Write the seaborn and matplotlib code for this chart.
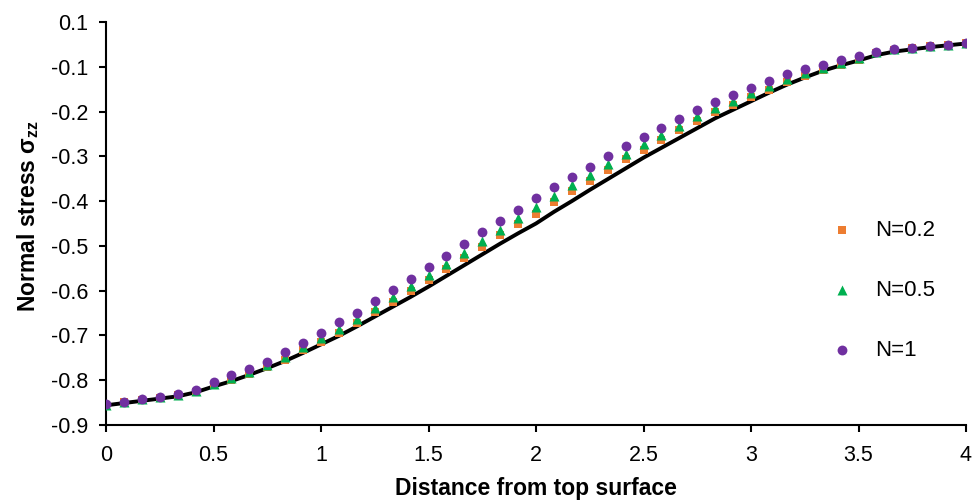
import numpy as np
import pandas as pd
import matplotlib
matplotlib.use("Agg")
import matplotlib.pyplot as plt
import seaborn as sns

# Distance from the top surface (49 evenly spaced stations, 0 to 4)
distance = np.linspace(0.0, 4.0, 49)

# Reference solution (solid black curve)
stress_ref = [
    -0.856, -0.851, -0.846, -0.841, -0.836, -0.827, -0.814, -0.802, -0.788, -0.773,
    -0.757, -0.739, -0.720, -0.701, -0.680, -0.658, -0.636, -0.614, -0.591, -0.567,
    -0.543, -0.519, -0.495, -0.472, -0.450, -0.424, -0.400, -0.375, -0.351, -0.327,
    -0.303, -0.281, -0.259, -0.237, -0.215, -0.196, -0.177, -0.158, -0.140, -0.124,
    -0.109, -0.097, -0.086, -0.074, -0.066, -0.061, -0.056, -0.052, -0.048,
]

# N = 0.2
stress_n02 = [
    -0.855, -0.849, -0.844, -0.839, -0.834, -0.826, -0.810, -0.799, -0.785, -0.771,
    -0.754, -0.733, -0.714, -0.694, -0.673, -0.648, -0.625, -0.601, -0.577, -0.552,
    -0.528, -0.502, -0.476, -0.451, -0.428, -0.402, -0.378, -0.354, -0.330, -0.306,
    -0.285, -0.263, -0.242, -0.220, -0.201, -0.185, -0.167, -0.151, -0.134, -0.120,
    -0.108, -0.095, -0.084, -0.069, -0.062, -0.058, -0.054, -0.051, -0.048,
]

# N = 0.5
stress_n05 = [
    -0.855, -0.849, -0.843, -0.838, -0.833, -0.824, -0.808, -0.795, -0.781, -0.766,
    -0.748, -0.726, -0.706, -0.685, -0.663, -0.638, -0.614, -0.590, -0.565, -0.540,
    -0.515, -0.489, -0.464, -0.438, -0.414, -0.389, -0.365, -0.342, -0.318, -0.294,
    -0.273, -0.252, -0.232, -0.211, -0.192, -0.176, -0.159, -0.143, -0.127, -0.114,
    -0.103, -0.091, -0.081, -0.068, -0.061, -0.058, -0.054, -0.051, -0.048,
]

# N = 1
stress_n1 = [
    -0.854, -0.848, -0.842, -0.837, -0.831, -0.821, -0.805, -0.789, -0.774, -0.759,
    -0.738, -0.716, -0.694, -0.671, -0.649, -0.623, -0.598, -0.573, -0.547, -0.522,
    -0.496, -0.470, -0.445, -0.419, -0.394, -0.369, -0.346, -0.323, -0.299, -0.276,
    -0.256, -0.236, -0.217, -0.197, -0.179, -0.163, -0.147, -0.132, -0.117, -0.105,
    -0.095, -0.085, -0.076, -0.067, -0.061, -0.058, -0.054, -0.051, -0.048,
]

series_labels = ["N=0.2", "N=0.5", "N=1"]
series_colors = ["#ED7D31", "#00B050", "#7030A0"]
series_markers = ["s", "^", "o"]

x_ticks = [0, 0.5, 1, 1.5, 2, 2.5, 3, 3.5, 4]
x_ticklabels = ["0", "0.5", "1", "1.5", "2", "2.5", "3", "3.5", "4"]
y_ticks = [0.0, -0.1, -0.2, -0.3, -0.4, -0.5, -0.6, -0.7, -0.8, -0.9]
y_ticklabels = ["0.1", "-0.1", "-0.2", "-0.3", "-0.4", "-0.5", "-0.6", "-0.7", "-0.8", "-0.9"]

sns.set_theme(style="white")
plt.rcParams["font.family"] = ["Liberation Sans", "DejaVu Sans"]
plt.rcParams["mathtext.fontset"] = "custom"
plt.rcParams["mathtext.bf"] = "Liberation Sans:bold"
plt.rcParams["mathtext.rm"] = "Liberation Sans:bold"
plt.rcParams["mathtext.default"] = "bf"

fig = plt.figure(figsize=(9.73, 5.03), dpi=100)
ax = fig.add_axes([106 / 973, 1 - 425 / 503, 860 / 973, 403 / 503])

ref_df = pd.DataFrame({"distance": distance, "stress": stress_ref})
sns.lineplot(data=ref_df, x="distance", y="stress", ax=ax, color="black",
             linewidth=2.8, legend=False, zorder=2)

marker_sizes = [40, 52, 50]
for values, label, color, marker, size in zip(
        [stress_n02, stress_n05, stress_n1], series_labels, series_colors,
        series_markers, marker_sizes):
    df = pd.DataFrame({"distance": distance, "stress": values})
    sns.scatterplot(data=df, x="distance", y="stress", ax=ax, color=color,
                    marker=marker, s=size, linewidth=0, label=label, zorder=3)

ax.set_xlim(0, 4)
ax.set_ylim(-0.9, 0.0)
ax.set_xticks(x_ticks)
ax.set_xticklabels(x_ticklabels)
ax.set_yticks(y_ticks)
ax.set_yticklabels(y_ticklabels)

for side in ["top", "right"]:
    ax.spines[side].set_visible(False)
for side in ["left", "bottom"]:
    ax.spines[side].set_color("black")
    ax.spines[side].set_linewidth(1.5)

ax.tick_params(axis="both", which="major", direction="out", length=5, width=1.5,
               color="black", labelsize=15.5, labelcolor="black", pad=8,
               bottom=True, left=True)
ax.tick_params(axis="x", pad=9.5)

ax.set_xlabel("Distance from top surface", fontsize=16.5, fontweight="bold",
              color="black", labelpad=8)
ax.set_ylabel(r"Normal stress $\sigma_{zz}$", fontsize=16.5, fontweight="bold",
              color="black", labelpad=7)
ax.yaxis.label.set_y(0.52)

leg = ax.legend(loc="upper left", bbox_to_anchor=(0.843, 0.508), frameon=False,
                fontsize=16, markerscale=1.0, labelspacing=1.74,
                handlelength=1.0, handletextpad=1.0, borderpad=0.0,
                borderaxespad=0.0)
for text in leg.get_texts():
    text.set_color("black")

fig.savefig("out.png", dpi=100)
